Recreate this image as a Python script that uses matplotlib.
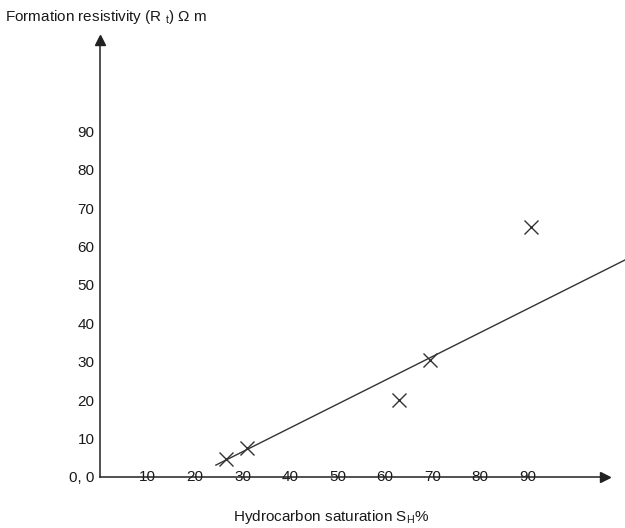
import matplotlib
matplotlib.use("Agg")
import matplotlib.pyplot as plt

plt.rcParams['font.family'] = ['Liberation Sans', 'DejaVu Sans']
plt.rcParams['mathtext.default'] = 'regular'

# data
sat_x = [26.5, 31, 63, 69.5, 90.8]
res_y = [4.7, 7.6, 20, 30.5, 65]
fit_x = [24.4, 110.5]
fit_y = [3.1, 56.5]
x_ticks = [10, 20, 30, 40, 50, 60, 70, 80, 90]
y_ticks = [10, 20, 30, 40, 50, 60, 70, 80, 90]
x_title = "Hydrocarbon saturation S$_H$%"
y_title = "Formation resistivity (R $_t$) Ω m"
origin_label = "0, 0"

W, H = 625, 528
fig = plt.figure(figsize=(W / 100, H / 100), dpi=100)
x0, y0 = 100, 477      # origin pixel (from top)
x1, ytop = 605, 40     # arrow tips
ax = fig.add_axes([x0 / W, (H - y0) / H, (x1 - x0) / W, (y0 - ytop) / H])
xpx, ypx = 4.75, 3.84
ax.set_xlim(0, (x1 - x0) / xpx)
ax.set_ylim(0, (y0 - ytop) / ypx)

col = '#222222'
tcol = '#1a1a1a'
fs = 11
for s in ['top', 'right']:
    ax.spines[s].set_visible(False)
for s in ['left', 'bottom']:
    ax.spines[s].set_color(col)
    ax.spines[s].set_linewidth(1.1)

ax.set_xticks([])
ax.set_yticks([0] + y_ticks)
ax.set_yticklabels([origin_label] + [str(v) for v in y_ticks], fontsize=fs, color=tcol)
ax.tick_params(axis='y', length=0, pad=4)

for v in x_ticks:
    ax.text(v, 0, str(v), ha='center', va='center', fontsize=fs, color=tcol, zorder=1)

# arrows
ax.plot([1], [0], marker='>', color=col, markersize=7, transform=ax.transAxes, clip_on=False)
ax.plot([0], [1], marker='^', color=col, markersize=7, transform=ax.transAxes, clip_on=False)

ax.plot(fit_x, fit_y, color='#333333', lw=1.0, clip_on=False)
ax.plot(sat_x, res_y, linestyle='none', marker='x', markersize=10, markeredgewidth=1.0,
        color='#333333', clip_on=False)

fig.text(5 / W, 1 - 17 / H, y_title, ha='left', va='center', fontsize=fs, color=tcol)
fig.text(331 / W, 1 - 517 / H, x_title, ha='center', va='center', fontsize=fs, color=tcol)

fig.savefig('out.png', dpi=100)
